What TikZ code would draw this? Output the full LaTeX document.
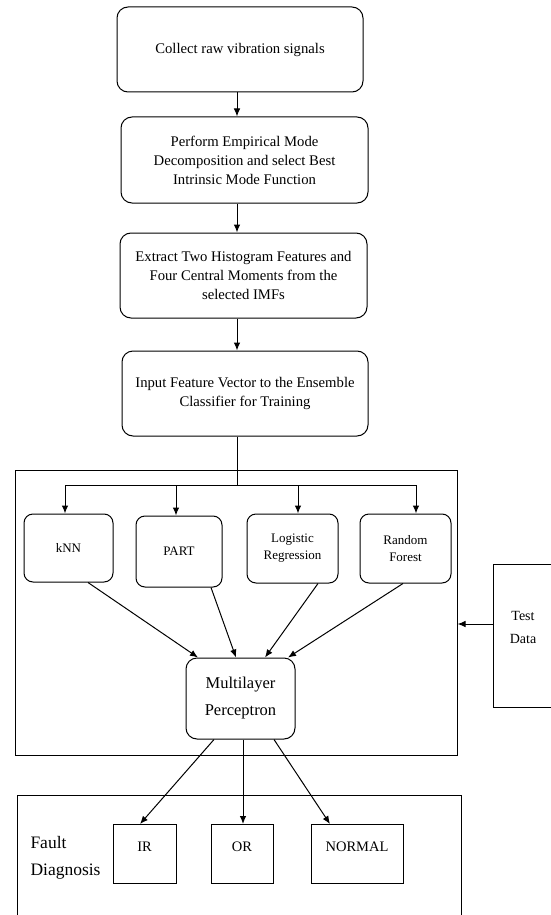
\documentclass[tikz,border=0pt]{standalone}
\usepackage{fontspec}
\setmainfont{Liberation Serif}
\usetikzlibrary{arrows.meta}
\begin{document}
\begin{tikzpicture}[x=1pt,y=-1pt,
  line width=1pt,
  arr/.style={-{Latex[length=8pt,width=6.5pt]}, line width=1pt},
  stepbox/.style={draw, rounded corners=11pt, align=center, inner sep=0pt,
    minimum width=246pt, minimum height=85pt, font=\fontsize{14.7}{19}\selectfont},
  clsbox/.style={draw, rounded corners=9pt, align=center, inner sep=0pt,
    font=\fontsize{13}{17}\selectfont},
  outbox/.style={draw, inner sep=0pt, text height=27pt, text depth=32pt,
    font=\fontsize{14.5}{17}\selectfont},
  frame/.style={draw, inner sep=0pt}
]
\useasboundingbox (0,0) rectangle (551,915);
\clip (0,0) rectangle (551,915);

% main steps
\node[stepbox] (b1) at (240,49.5) {Collect raw vibration signals};
\node[stepbox, minimum width=247pt, minimum height=86pt] (b2) at (244.5,160)
  {Perform Empirical Mode\\Decomposition and select Best\\Intrinsic Mode Function};
\node[stepbox, minimum width=247pt] (b3) at (243.5,275.5)
  {Extract Two Histogram Features and\\Four Central Moments from the\\selected IMFs};
\node[stepbox] (b4) at (245,393.5)
  {Input Feature Vector to the Ensemble\\Classifier for Training};

\coordinate (spine) at (237,0);
\draw[arr] (b1.south -| spine) -- (b2.north -| spine);
\draw[arr] (b2.south -| spine) -- (b3.north -| spine);
\draw[arr] (b3.south -| spine) -- (b4.north -| spine);

% ensemble frame
\node[frame, minimum width=442pt, minimum height=285pt] (ens) at (236,612.5) {};

% classifiers
\node[clsbox, minimum width=89pt, minimum height=68pt] (knn) at (68.5,548) {kNN};
\node[clsbox, minimum width=86pt, minimum height=71pt] (part) at (179,551.5) {PART};
\node[clsbox, minimum width=91pt, minimum height=69pt] (lr) at (292.5,548.5) {Logistic\\Regression};
\node[clsbox, minimum width=91pt, minimum height=69pt] (rf) at (405.5,548.5) {Random\\Forest};

\coordinate (jc) at (237,485);
\coordinate (ka) at (65,485);
\coordinate (pa) at (176,485);
\coordinate (la) at (298,485);
\coordinate (ra) at (416,485);
\draw (b4.south -| spine) -- (jc);
\draw (ka) -- (ra);
\draw[arr] (ka) -- (ka |- knn.north);
\draw[arr] (pa) -- (pa |- part.north);
\draw[arr] (la) -- (la |- lr.north);
\draw[arr] (ra) -- (ra |- rf.north);

% MLP
\node[draw, rounded corners=11pt, align=center, inner sep=0pt,
  minimum width=109pt, minimum height=81pt,
  font=\fontsize{16.5}{27}\selectfont] (mlp) at (240.5,698.5)
  {Multilayer\\Perceptron};

\draw[arr] ([xshift=19.5pt]knn.south) -- ([xshift=-42.5pt]mlp.north);
\draw[arr] ([xshift=32pt]part.south) -- ([xshift=-4.5pt]mlp.north);
\draw[arr] ([xshift=25.5pt]lr.south) -- ([xshift=24.5pt]mlp.north);
\draw[arr] ([xshift=-2.5pt]rf.south) -- ([xshift=47.5pt]mlp.north);

% test data
\node[frame, minimum width=61pt, minimum height=143pt] (test) at (523.5,635.5) {};
\node[align=center, inner sep=0pt, font=\fontsize{14}{23}\selectfont] (testlbl) at (523,627) {Test\\Data};
\coordinate (ty) at (0,624);
\draw[arr] (test.west |- ty) -- (ens.east |- ty);

% fault diagnosis frame
\node[frame, minimum width=444pt, minimum height=150pt] (fd) at (239,870) {};
\node[align=left, anchor=west, inner sep=0pt, font=\fontsize{17.5}{27}\selectfont] (fdlbl) at (30,858) {Fault\\Diagnosis};

\node[outbox, minimum width=63pt] (ir) at (144.5,854) {IR};
\node[outbox, minimum width=62pt] (or) at (242,854) {OR};
\node[outbox, minimum width=92pt] (normal) at (357,854) {NORMAL};

\draw[arr] ([xshift=-26.5pt]mlp.south) -- ([xshift=-4.5pt]ir.north);
\draw[arr] ([xshift=2.5pt]mlp.south) -- ([xshift=1pt]or.north);
\draw[arr] ([xshift=33.5pt]mlp.south) -- ([xshift=-27pt]normal.north);
\end{tikzpicture}
\end{document}
